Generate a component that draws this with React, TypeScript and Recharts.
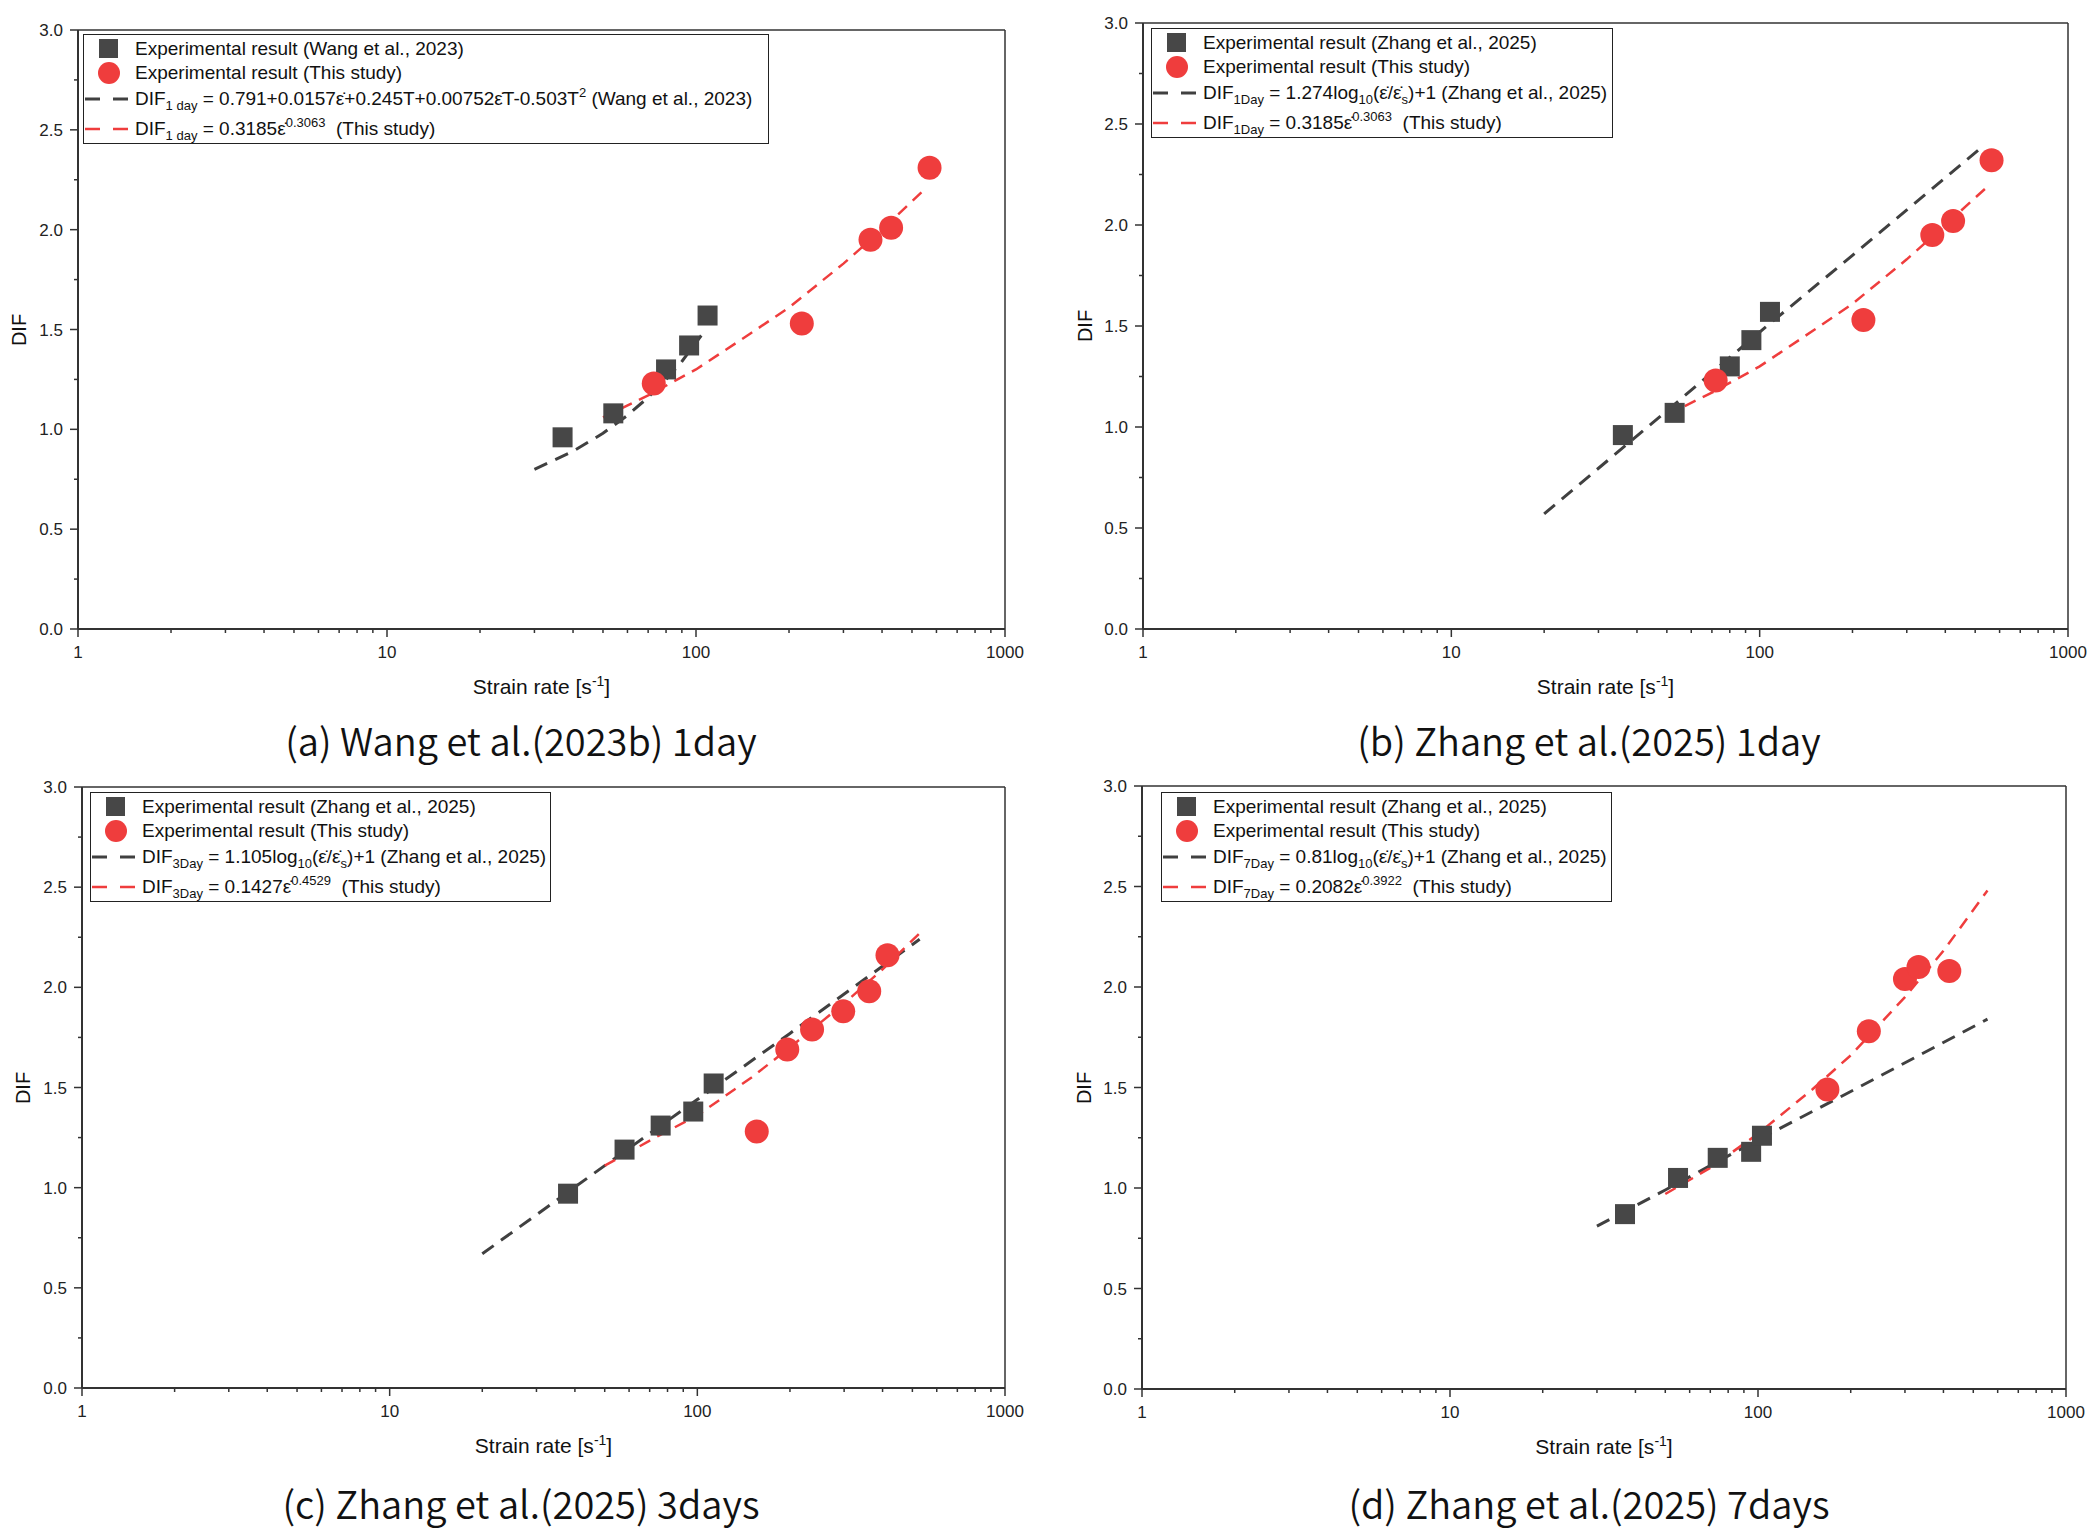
import React from "react";
import { ComposedChart, Scatter, Line, XAxis, YAxis, ReferenceLine } from "recharts";

// ---- tick labels ----
const xMajorTicks = [1, 10, 100, 1000];
const xMinorTicks = [2, 3, 4, 5, 6, 7, 8, 9, 20, 30, 40, 50, 60, 70, 80, 90, 200, 300, 400, 500, 600, 700, 800, 900];
const yTicks = [0, 0.25, 0.5, 0.75, 1, 1.25, 1.5, 1.75, 2, 2.25, 2.5, 2.75, 3];

// ---- (a) Wang et al. (2023b) 1day ----
const aRefX = [37, 54, 80, 95, 109];
const aRefY = [0.96, 1.08, 1.3, 1.42, 1.57];
const aStudyX = [73, 220, 367, 428, 570];
const aStudyY = [1.23, 1.53, 1.95, 2.01, 2.31];
const aRefFitX = [30, 40, 50, 60, 70, 80, 90, 104];
const aRefFitY = [0.8, 0.89, 0.98, 1.07, 1.16, 1.25, 1.34, 1.47];
const aStudyFitX = [50, 70, 100, 150, 200, 300, 400, 556];
const aStudyFitY = [1.06, 1.17, 1.3, 1.48, 1.61, 1.83, 2.0, 2.21];

// ---- (b) Zhang et al. (2025) 1day ----
const bRefX = [36, 53, 80, 94, 108];
const bRefY = [0.96, 1.07, 1.3, 1.43, 1.57];
const bStudyX = [72, 217, 363, 424, 565];
const bStudyY = [1.23, 1.53, 1.95, 2.02, 2.32];
const bRefFitX = [20, 50, 100, 200, 530];
const bRefFitY = [0.57, 1.08, 1.47, 1.85, 2.39];
const bStudyFitX = [50, 70, 100, 150, 200, 300, 400, 548];
const bStudyFitY = [1.06, 1.17, 1.3, 1.48, 1.61, 1.83, 2.0, 2.19];

// ---- (c) Zhang et al. (2025) 3days ----
const cRefX = [38, 58, 76, 97, 113];
const cRefY = [0.97, 1.19, 1.31, 1.38, 1.52];
const cStudyX = [156, 196, 236, 298, 362, 415];
const cStudyY = [1.28, 1.69, 1.79, 1.88, 1.98, 2.16];
const cRefFitX = [20, 50, 100, 200, 528];
const cRefFitY = [0.67, 1.11, 1.44, 1.77, 2.24];
const cStudyFitX = [50, 75, 100, 150, 200, 300, 400, 528];
const cStudyFitY = [1.11, 1.26, 1.36, 1.55, 1.7, 1.92, 2.09, 2.27];

// ---- (d) Zhang et al. (2025) 7days ----
const dRefX = [37, 55, 74, 95, 103];
const dRefY = [0.87, 1.05, 1.15, 1.18, 1.26];
const dStudyX = [168, 229, 300, 332, 418];
const dStudyY = [1.49, 1.78, 2.04, 2.1, 2.08];
const dRefFitX = [30, 50, 100, 200, 556];
const dRefFitY = [0.81, 0.99, 1.24, 1.48, 1.84];
const dStudyFitX = [50, 70, 100, 150, 200, 300, 400, 556];
const dStudyFitY = [0.97, 1.1, 1.27, 1.49, 1.66, 1.95, 2.18, 2.48];

const AXIS = "#333";
const GREY = "#474747";
const RED = "#ef3d3d";
const FONT = "'Liberation Sans', Arial, sans-serif";

const pts = (xs: number[], ys: number[]) => xs.map((x, i) => ({ x, y: ys[i] }));
const EPS = "ε\u0307";

const XTick = ({ x, y, payload }: any) => {
  const major = xMajorTicks.includes(payload.value);
  return (
    <g>
      <line x1={x} x2={x} y1={y} y2={y + (major ? 8 : 4)} stroke={AXIS} strokeWidth={1.5} />
      {major && (
        <text x={x} y={y + 29} textAnchor="middle" fontSize={17} fill="#222" fontFamily={FONT}>
          {payload.value}
        </text>
      )}
    </g>
  );
};

const YTick = ({ x, y, payload }: any) => {
  const major = Number.isInteger(payload.value * 2);
  return (
    <g>
      <line x1={x} x2={x - (major ? 8 : 4)} y1={y} y2={y} stroke={AXIS} strokeWidth={1.5} />
      {major && (
        <text x={x - 15} y={y + 6} textAnchor="end" fontSize={17} fill="#222" fontFamily={FONT}>
          {payload.value.toFixed(1)}
        </text>
      )}
    </g>
  );
};

const squareShape = (p: any) => <rect x={p.cx - 10} y={p.cy - 10} width={20} height={20} fill={GREY} />;
const circleShape = (p: any) => <circle cx={p.cx} cy={p.cy} r={12} fill={RED} />;

const sub = (t: string, size = 13) => <span style={{ fontSize: size, position: "relative", top: 5 }}>{t}</span>;
const sup = (t: string, size = 13) => <span style={{ fontSize: size, position: "relative", top: -8 }}>{t}</span>;

function LegendBox({ left, top, width, refName, refFit, studyFit }: any) {
  const rowY = [14, 38, 64, 94];
  const sym = (kind: string, cy: number) => {
    if (kind === "square") return <rect x={15} y={cy - 10} width={19} height={19} fill={GREY} />;
    if (kind === "circle") return <circle cx={25} cy={cy} r={11} fill={RED} />;
    return (
      <line x1={1} x2={45} y1={cy} y2={cy} stroke={kind === "black" ? "#404040" : RED}
        strokeWidth={kind === "black" ? 3 : 2.5} strokeDasharray="15 13" />
    );
  };
  const texts = [`Experimental result (${refName})`, "Experimental result (This study)", refFit, studyFit];
  const kinds = ["square", "circle", "black", "red"];
  return (
    <div style={{ position: "absolute", left, top, width, height: 110, border: "1.5px solid #222", boxSizing: "border-box", background: "#fff" }}>
      <svg width={width} height={110} style={{ position: "absolute", left: 0, top: 0 }}>
        {kinds.map((k, i) => <g key={k}>{sym(k, rowY[i])}</g>)}
      </svg>
      {texts.map((t, i) => (
        <div key={i} style={{ position: "absolute", left: 51, top: rowY[i] - 12, lineHeight: "24px", fontSize: 19, fontFamily: FONT, color: "#111", whiteSpace: "nowrap" }}>
          {t}
        </div>
      ))}
    </div>
  );
}

function Panel({ ox, oy, L, T, R, B, difX, refPts, studyPts, refFit, studyFit, legend, caption, capX, capY }: any) {
  return (
    <>
      <div style={{ position: "absolute", left: ox, top: oy }}>
        <ComposedChart width={1050} height={765} margin={{ top: T - oy, right: ox + 1050 - R, left: 0, bottom: 0 }}>
          <XAxis dataKey="x" type="number" scale="log" domain={[1, 1000]} allowDataOverflow
            ticks={[...xMajorTicks, ...xMinorTicks]} interval={0} tick={<XTick />} tickLine={false}
            tickSize={0} tickMargin={0} height={oy + 765 - B} axisLine={{ stroke: AXIS, strokeWidth: 2 }} />
          <YAxis dataKey="y" type="number" domain={[0, 3]} allowDataOverflow ticks={yTicks} interval={0}
            tick={<YTick />} tickLine={false} tickSize={0} tickMargin={0} width={L - ox}
            axisLine={{ stroke: AXIS, strokeWidth: 2 }} />
          <ReferenceLine y={3} stroke={AXIS} strokeWidth={1.5} />
          <ReferenceLine x={1000} stroke={AXIS} strokeWidth={1.5} />
          <Scatter data={refPts} shape={squareShape} isAnimationActive={false} />
          <Scatter data={studyPts} shape={circleShape} isAnimationActive={false} />
          <Line data={refFit} dataKey="y" type="linear" dot={false} stroke="#404040" strokeWidth={3}
            strokeDasharray="14 9" isAnimationActive={false} />
          <Line data={studyFit} dataKey="y" type="linear" dot={false} stroke={RED} strokeWidth={2.5}
            strokeDasharray="12 8" isAnimationActive={false} />
        </ComposedChart>
      </div>
      <LegendBox {...legend} />
      <div style={{ position: "absolute", left: difX - 100, top: (T + B) / 2 - 12, width: 200, textAlign: "center", transform: "rotate(-90deg)", fontSize: 20, fontFamily: FONT, lineHeight: "24px", color: "#111" }}>
        DIF
      </div>
      <div style={{ position: "absolute", left: (L + R) / 2 - 150, top: B + 45, width: 300, textAlign: "center", fontSize: 21, fontFamily: FONT, lineHeight: "26px", whiteSpace: "nowrap", color: "#111" }}>
        Strain rate [s{sup("-1", 14)}]
      </div>
      <div style={{ position: "absolute", left: capX - 300, top: capY - 25, width: 600, textAlign: "center", fontSize: 38, fontFamily: "'Noto Sans CJK KR', sans-serif", fontWeight: 350, lineHeight: "50px", whiteSpace: "nowrap", color: "#111" }}>
        {caption}
      </div>
    </>
  );
}

export default function App() {
  return (
    <div style={{ position: "absolute", left: 0, top: 0, width: 2100, height: 1530, background: "#fff", overflow: "hidden" }}>
      <Panel ox={0} oy={0} L={78} T={30} R={1005} B={629} difX={19}
        refPts={pts(aRefX, aRefY)} studyPts={pts(aStudyX, aStudyY)}
        refFit={pts(aRefFitX, aRefFitY)} studyFit={pts(aStudyFitX, aStudyFitY)}
        caption="(a) Wang et al.(2023b) 1day" capX={521} capY={740}
        legend={{
          left: 83, top: 34, width: 686, refName: "Wang et al., 2023",
          refFit: <>DIF{sub("1 day")} = 0.791+0.0157{EPS}+0.245T+0.00752{EPS}T-0.503T{sup("2")} (Wang et al., 2023)</>,
          studyFit: <>DIF{sub("1 day")} = 0.3185{EPS}{sup("0.3063")}&nbsp; (This study)</>,
        }} />
      <Panel ox={1050} oy={0} L={1143} T={23} R={2068} B={629} difX={1085}
        refPts={pts(bRefX, bRefY)} studyPts={pts(bStudyX, bStudyY)}
        refFit={pts(bRefFitX, bRefFitY)} studyFit={pts(bStudyFitX, bStudyFitY)}
        caption="(b) Zhang et al.(2025) 1day" capX={1589} capY={740}
        legend={{
          left: 1151, top: 28, width: 462, refName: "Zhang et al., 2025",
          refFit: <>DIF{sub("1Day")} = 1.274log{sub("10")}({EPS}/{EPS}{sub("s")})+1 (Zhang et al., 2025)</>,
          studyFit: <>DIF{sub("1Day")} = 0.3185{EPS}{sup("0.3063")}&nbsp; (This study)</>,
        }} />
      <Panel ox={0} oy={765} L={82} T={787} R={1005} B={1388} difX={23}
        refPts={pts(cRefX, cRefY)} studyPts={pts(cStudyX, cStudyY)}
        refFit={pts(cRefFitX, cRefFitY)} studyFit={pts(cStudyFitX, cStudyFitY)}
        caption="(c) Zhang et al.(2025) 3days" capX={521} capY={1503}
        legend={{
          left: 90, top: 792, width: 461, refName: "Zhang et al., 2025",
          refFit: <>DIF{sub("3Day")} = 1.105log{sub("10")}({EPS}/{EPS}{sub("s")})+1 (Zhang et al., 2025)</>,
          studyFit: <>DIF{sub("3Day")} = 0.1427{EPS}{sup("0.4529")}&nbsp; (This study)</>,
        }} />
      <Panel ox={1050} oy={765} L={1142} T={786} R={2066} B={1389} difX={1084}
        refPts={pts(dRefX, dRefY)} studyPts={pts(dStudyX, dStudyY)}
        refFit={pts(dRefFitX, dRefFitY)} studyFit={pts(dStudyFitX, dStudyFitY)}
        caption="(d) Zhang et al.(2025) 7days" capX={1589} capY={1503}
        legend={{
          left: 1161, top: 792, width: 451, refName: "Zhang et al., 2025",
          refFit: <>DIF{sub("7Day")} = 0.81log{sub("10")}({EPS}/{EPS}{sub("s")})+1 (Zhang et al., 2025)</>,
          studyFit: <>DIF{sub("7Day")} = 0.2082{EPS}{sup("0.3922")}&nbsp; (This study)</>,
        }} />
    </div>
  );
}
